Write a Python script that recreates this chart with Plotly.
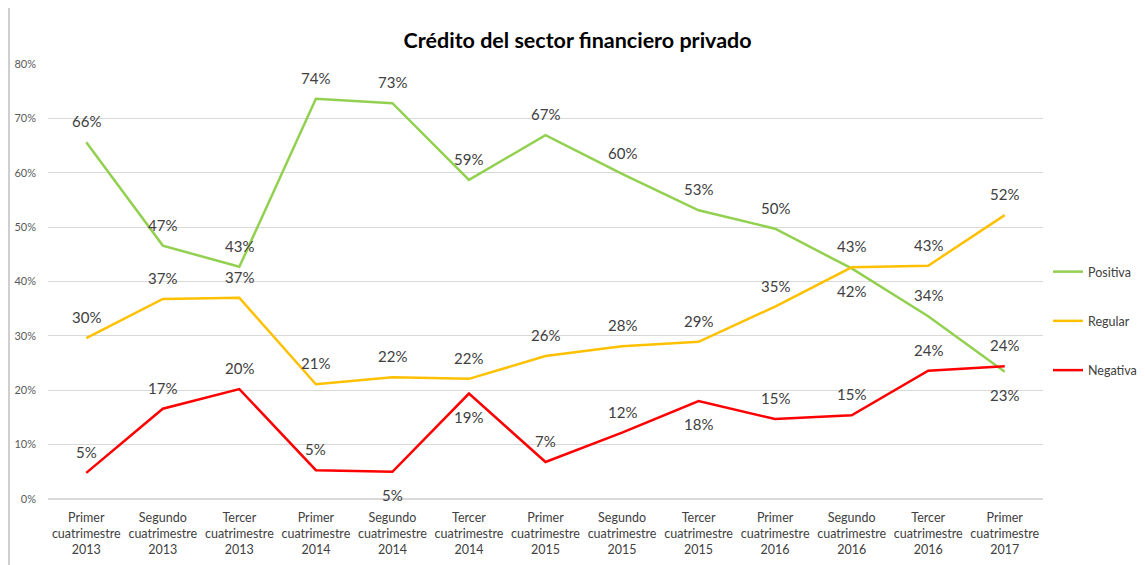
import plotly.graph_objects as go

categories = [
    "Primer<br>cuatrimestre<br>2013", "Segundo<br>cuatrimestre<br>2013", "Tercer<br>cuatrimestre<br>2013",
    "Primer<br>cuatrimestre<br>2014", "Segundo<br>cuatrimestre<br>2014", "Tercer<br>cuatrimestre<br>2014",
    "Primer<br>cuatrimestre<br>2015", "Segundo<br>cuatrimestre<br>2015", "Tercer<br>cuatrimestre<br>2015",
    "Primer<br>cuatrimestre<br>2016", "Segundo<br>cuatrimestre<br>2016", "Tercer<br>cuatrimestre<br>2016",
    "Primer<br>cuatrimestre<br>2017",
]
positiva = [65.6, 46.6, 42.7, 73.6, 72.8, 58.7, 66.9, 59.8, 53.1, 49.7, 42.4, 33.6, 23.4]
regular = [29.6, 36.8, 37.0, 21.1, 22.4, 22.1, 26.3, 28.1, 28.9, 35.4, 42.6, 42.9, 52.2]
negativa = [4.8, 16.6, 20.2, 5.3, 5.0, 19.4, 6.8, 12.2, 18.0, 14.7, 15.4, 23.6, 24.4]

# label placement: 1 = above the point, -1 = below
pos_side = [1] * 10 + [-1, 1, -1]
reg_side = [1] * 13
neg_side = [1, 1, 1, 1, -1, -1, 1, 1, -1, 1, 1, 1, 1]

FONT = "Lato, 'Open Sans', sans-serif"
W, H = 1137, 557
ML, MR, MT, MB = 40, 102, 56, 66
PW, PH = W - ML - MR, H - MT - MB

fig = go.Figure()
annotations = []
for name, vals, color, sides in [
    ("Positiva", positiva, "#92D050", pos_side),
    ("Regular", regular, "#FFC000", reg_side),
    ("Negativa", negativa, "#FF0000", neg_side),
]:
    fig.add_trace(go.Scatter(
        x=categories, y=[v / 100 for v in vals], name=name, mode="lines",
        legendgroup=name,
        line=dict(color=color, width=2.5),
    ))
    for c, v, s in zip(categories, vals, sides):
        annotations.append(dict(
            x=c, y=v / 100, xref="x", yref="y", text=f"{round(v)}%",
            showarrow=False, yshift=21 if s > 0 else -23,
            font=dict(size=15, color="#404040", family=FONT),
        ))

fig.update_layout(
    width=W, height=H,
    margin=dict(l=ML, r=MR, t=MT, b=MB, autoexpand=False),
    paper_bgcolor="white", plot_bgcolor="white",
    title=dict(text="<b>Crédito del sector financiero privado</b>", x=0.501, xanchor="center",
               y=1 - 32 / H, yanchor="middle", yref="container",
               font=dict(size=21.5, color="#000000", family=FONT)),
    font=dict(family=FONT, color="#404040"),
    showlegend=True,
    legend=dict(x=1040 / W, y=1 - 313 / H, xref="container", yref="container",
                xanchor="left", yanchor="middle",
                font=dict(size=12.5, color="#404040"), tracegroupgap=30,
                itemwidth=30, bgcolor="rgba(0,0,0,0)", traceorder="grouped"),
    xaxis=dict(showgrid=False, tickfont=dict(size=12.5, color="#404040"), showline=False,
               ticks="", range=[-0.5, 12.5], ticklabelstandoff=9, automargin=False),
    yaxis=dict(range=[0, 0.8], dtick=0.1, tickformat=".0%", showgrid=True,
               gridcolor="#D9D9D9", gridwidth=1, zeroline=True, zerolinecolor="#D9D9D9",
               tickfont=dict(size=11, color="#595959"), ticks="", showline=False,
               ticklabelstandoff=11, automargin=False),
    annotations=annotations,
    shapes=[dict(type="line", xref="paper", yref="paper", x0=-39 / PW, x1=-39 / PW,
                 y0=-MB / PH, y1=1 + MT / PH, line=dict(color="#BFBFBF", width=1.5))],
)

fig.write_html("out.html")
